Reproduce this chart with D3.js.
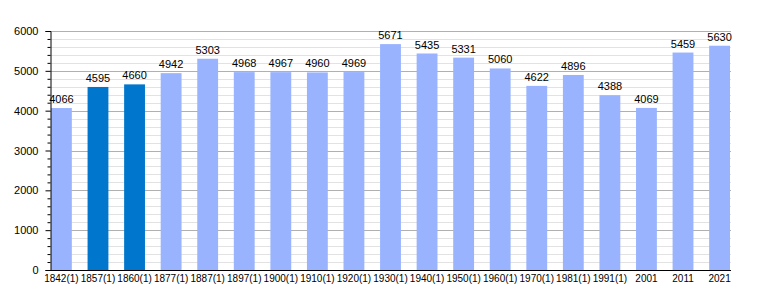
<!DOCTYPE html>
<html>
<head>
<meta charset="utf-8">
<script src="https://cdn.jsdelivr.net/npm/d3@7"></script>
<style>
body { margin: 0; background: #fff; }
text { font-family: "Liberation Sans", Arial, sans-serif; font-size: 11px; fill: #000; }
</style>
</head>
<body>
<svg id="mySVG" width="760" height="300"></svg>
<script>
// data
var years = ["1842(1)", "1857(1)", "1860(1)", "1877(1)", "1887(1)", "1897(1)", "1900(1)", "1910(1)", "1920(1)",
	"1930(1)", "1940(1)", "1950(1)", "1960(1)", "1970(1)", "1981(1)", "1991(1)", "2001", "2011", "2021"];
var population = [4066, 4595, 4660, 4942, 5303, 4968, 4967, 4960, 4969,
	5671, 5435, 5331, 5060, 4622, 4896, 4388, 4069, 5459, 5630];
var highlighted = ["1857(1)", "1860(1)"];
var yTicks = [0, 1000, 2000, 3000, 4000, 5000, 6000];

var svg = d3.select('#mySVG');
var plotLeft = 50, plotRight = 731, plotTop = 31, plotBottom = 270;

var x = d3.scaleBand()
	.domain(years)
	.range([plotLeft + 1, plotRight - 1])
	.paddingInner(0.43)
	.paddingOuter(0);

var y = d3.scaleLinear()
	.domain([0, 6000])
	.range([plotBottom, plotTop]);

// grid lines, light every 200, darker every 1000
var minor = d3.range(0, 6001, 200);
svg.append('g').selectAll('line')
	.data(minor)
	.enter().append('line')
	.attr("x1", plotLeft).attr("x2", plotRight)
	.attr("y1", function(d){ return Math.round(y(d)) + 0.5; })
	.attr("y2", function(d){ return Math.round(y(d)) + 0.5; })
	.attr("stroke", function(d){ return d % 1000 == 0 ? "#b0b0b0" : "#e2e2e2"; })
	.attr("stroke-width", 1);

// bars
svg.append('g').selectAll('rect')
	.data(years)
	.enter().append('rect')
	.attr("x", function(d){ return x(d); })
	.attr("width", x.bandwidth())
	.attr("y", function(d, i){ return y(population[i]); })
	.attr("height", function(d, i){ return plotBottom - y(population[i]); })
	.attr("fill", function(d){ return highlighted.indexOf(d) >= 0 ? "#0077cc" : "#99b3ff"; });

// value labels
svg.append('g').selectAll('text')
	.data(years)
	.enter().append('text')
	.attr("x", function(d){ return x(d) + x.bandwidth() / 2; })
	.attr("y", function(d, i){ return y(population[i]) - 5; })
	.attr("text-anchor", "middle")
	.text(function(d, i){ return population[i]; });

// y axis with minor ticks
var yAxis = d3.axisLeft(y).tickValues(yTicks).tickSize(5).tickPadding(7).tickFormat(d3.format("d"));
var gy = svg.append('g').attr("transform", "translate(" + (plotLeft + 0.5) + ",0)").call(yAxis);
gy.select(".domain").attr("stroke", "#000");
gy.selectAll(".tick text").style("font-size", "11px").style("font-family", "Liberation Sans, Arial, sans-serif");

svg.append('g').attr("transform", "translate(" + (plotLeft + 0.5) + ",0)")
	.call(d3.axisLeft(y).tickValues(minor.filter(function(d){ return d % 1000 != 0; })).tickSize(3).tickFormat(""))
	.select(".domain").remove();

// x axis
var xAxis = d3.axisBottom(x).tickSize(0).tickPadding(4);
var gx = svg.append('g').attr("transform", "translate(0," + (plotBottom + 0.5) + ")").call(xAxis);
gx.select(".domain").attr("d", "M" + plotLeft + ",0H" + plotRight).attr("stroke", "#000");
gx.selectAll(".tick text").style("font-size", "10px").style("font-family", "Liberation Sans, Arial, sans-serif");
</script>
</body>
</html>
